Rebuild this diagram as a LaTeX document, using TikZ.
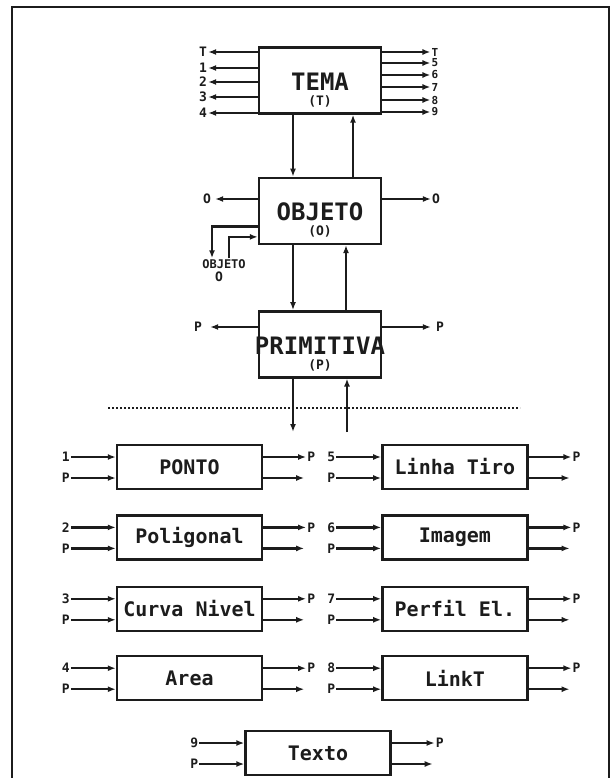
\documentclass[tikz,border=0pt]{standalone}
\usepackage{fontspec}
\setmonofont{DejaVu Sans Mono}
\usetikzlibrary{arrows.meta, positioning, calc}
\definecolor{plotink}{HTML}{1C1C1C}
\newcommand{\plotfont}[1]{\ttfamily\bfseries\fontsize{#1}{#1}\selectfont}

\tikzset{
  mainbox/.style={draw=plotink, line width=2.4pt, minimum width=122pt,
                  minimum height=66pt, inner sep=0pt},
  subbox/.style={draw=plotink, line width=2.4pt, minimum width=145pt,
                 minimum height=44pt, inner sep=0pt, text=plotink,
                 font=\plotfont{20}},
  titletxt/.style={font=\plotfont{24}, inner sep=0pt, text=plotink},
  subtxt/.style={font=\plotfont{13}, inner sep=0pt, text=plotink},
  pinlbl/.style={font=\plotfont{13}, inner sep=1pt, text=plotink},
  flow/.style={draw=plotink, line width=2.2pt, -{Latex[length=8pt,width=6pt]}},
}

\begin{document}
\begin{tikzpicture}[x=1pt, y=-1pt]
  \useasboundingbox (0,0) rectangle (611,778);
  % outer frame
  \draw[plotink, line width=2.4pt] (12,790) -- (12,7) -- (609,7) -- (609,790);

  % upper chain
  \node[mainbox] (tema) at (320,80.5) {};
  \node[titletxt] at ($(tema.center)+(0,1)$) {TEMA};
  \node[subtxt] at ($(tema.center)+(0,21)$) {(T)};

  \node[mainbox, below=62pt of tema] (objeto) {};
  \node[titletxt] at ($(objeto.center)+(0,1)$) {OBJETO};
  \node[subtxt] at ($(objeto.center)+(0,21)$) {(O)};

  \node[mainbox, below=65pt of objeto] (primitiva) {};
  \node[titletxt] at ($(primitiva.center)+(0,1)$) {PRIMITIVA};
  \node[subtxt] at ($(primitiva.center)+(0,21)$) {(P)};

  % tema outputs
  \foreach \lab/\yy [count=\i] in {T/52,1/68,2/82,3/97,4/113} {
    \node[pinlbl] (tin\i) at (203,\yy) {\lab};
    \draw[flow] (tema.west |- tin\i) -- (tin\i.east);
  }
  \foreach \lab/\yy [count=\i] in {T/52,5/63,6/75,7/87,8/100,9/112} {
    \node[pinlbl, font=\plotfont{11}, inner sep=0pt] (tout\i) at (435,\yy) {\lab};
    \draw[flow] (tema.east |- tout\i) -- ([xshift=-1pt]tout\i.west);
  }

  % links between the big boxes
  \draw[flow] ($(tema.south)+(-27,0)$) -- ($(objeto.north)+(-27,0)$);
  \draw[flow] ($(objeto.north)+(33,0)$) -- ($(tema.south)+(33,0)$);
  \draw[flow] ($(objeto.south)+(-27,0)$) -- ($(primitiva.north)+(-27,0)$);
  \draw[flow] ($(primitiva.north)+(26,0)$) -- ($(objeto.south)+(26,0)$);
  \coordinate (pdown) at (293,432);
  \coordinate (pup) at (347,432);
  \draw[flow] (primitiva.south -| pdown) -- (pdown);
  \draw[flow] (pup) -- (primitiva.south -| pup);

  % objeto sides
  \node[pinlbl] (oin) at (207,199) {O};
  \draw[flow] (objeto.west |- oin) -- ([xshift=3pt]oin.east);
  \node[pinlbl] (oout) at (436,199) {O};
  \draw[flow] (objeto.east |- oout) -- (oout.west);
  \node[pinlbl, font=\plotfont{12}] (objlbl) at (224,264) {OBJETO};
  \node[pinlbl] (objsub) at (219,277) {O};
  \draw[flow] ($(objeto.west)+(0,15.5)$) -| ([xshift=-12pt]objlbl.north);
  \draw[flow] ([xshift=5pt]objlbl.north) |- ($(objeto.west)+(0,26)$);

  % primitiva sides
  \node[pinlbl] (pin) at (198,327) {P};
  \draw[flow] (primitiva.west |- pin) -- ([xshift=7pt]pin.east);
  \node[pinlbl] (pout) at (440,327) {P};
  \draw[flow] (primitiva.east |- pout) -- ([xshift=-4pt]pout.west);

  % separator
  \coordinate (sepL) at (108,408);
  \coordinate (sepR) at (520,408);
  \draw[plotink, line width=2.2pt, dash pattern=on 2pt off 2pt] (sepL) -- (sepR);

  % primitive boxes
  \node[subbox] (ponto) at (189.5,467) {PONTO};
  \node[subbox, below=24pt of ponto] (poligonal) {Poligonal};
  \node[subbox, below=25pt of poligonal] (curva) {Curva Nivel};
  \node[subbox, below=23pt of curva] (area) {Area};
  \node[subbox, right=118pt of ponto] (linha) {Linha Tiro};
  \node[subbox, right=118pt of poligonal] (imagem) {Imagem};
  \node[subbox, right=118pt of curva] (perfil) {Perfil El.};
  \node[subbox, right=118pt of area] (linkt) {LinkT};
  \node[subbox] (texto) at (318,753) {Texto};

  \foreach \bx/\num in {ponto/1, poligonal/2, curva/3, area/4, linha/5,
                        imagem/6, perfil/7, linkt/8, texto/9} {
    \node[pinlbl] (\bx-n) at ($(\bx.west)+(-50,-10)$) {\num};
    \node[pinlbl] (\bx-p) at ($(\bx.west)+(-50,11)$) {P};
    \draw[flow] (\bx-n.east) -- (\bx-n -| \bx.west);
    \draw[flow] (\bx-p.east) -- (\bx-p -| \bx.west);
    \node[pinlbl] (\bx-o) at ($(\bx.east)+(48,-10)$) {P};
    \coordinate (\bx-e) at ($(\bx.east)+(41,11)$);
    \draw[flow] (\bx-o -| \bx.east) -- (\bx-o.west);
    \draw[flow] (\bx-e -| \bx.east) -- (\bx-e);
  }
\end{tikzpicture}
\end{document}
